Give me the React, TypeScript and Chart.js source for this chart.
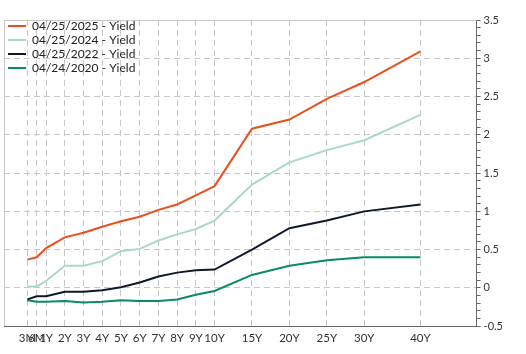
import React, { useEffect, useRef } from "react";
import { Chart, registerables } from "chart.js";

Chart.register(...registerables);

// Maturities shown on the x axis, and their slot on the (non-uniform) maturity axis
const maturityLabels = ["3M", "6M", "1Y", "2Y", "3Y", "4Y", "5Y", "6Y", "7Y", "8Y", "9Y", "10Y", "15Y", "20Y", "25Y", "30Y", "40Y"];
const maturitySlots = [0, 1, 2, 4, 6, 8, 10, 12, 14, 16, 18, 20, 24, 28, 32, 36, 42];

const seriesNames = ["04/25/2025 - Yield", "04/25/2024 - Yield", "04/25/2022 - Yield", "04/24/2020 - Yield"];

const yield2025 = [0.37, 0.40, 0.52, 0.66, 0.72, 0.80, 0.87, 0.93, 1.02, 1.09, 1.21, 1.33, 2.08, 2.20, 2.47, 2.69, 3.09];
const yield2024 = [0.02, 0.02, 0.09, 0.29, 0.29, 0.35, 0.48, 0.51, 0.62, 0.70, 0.77, 0.88, 1.35, 1.64, 1.80, 1.93, 2.26];
const yield2022 = [-0.15, -0.11, -0.11, -0.05, -0.05, -0.03, 0.01, 0.07, 0.15, 0.20, 0.23, 0.24, 0.50, 0.78, 0.88, 1.00, 1.09];
const yield2020 = [-0.16, -0.18, -0.18, -0.17, -0.19, -0.18, -0.16, -0.17, -0.17, -0.15, -0.09, -0.04, 0.17, 0.29, 0.36, 0.40, 0.40];

const seriesColors = ["#E9501F", "#A9D9C5", "#0E1A2B", "#0A8A68"];

const GRID = "#c8c8c8";
const AXIS = "#666666";

const framePlugin = {
  id: "frame",
  afterLayout(chart: any) {
    const lg = chart.legend;
    const ca = chart.chartArea;
    if (lg && ca) {
      const h = lg.height;
      lg.top = ca.top - 2;
      lg.bottom = lg.top + h;
      const w = lg.width;
      lg.left = ca.left + 2;
      lg.right = lg.left + w;
    }
  },
  beforeDatasetsDraw(chart: any) {
    const { ctx, chartArea } = chart;
    ctx.save();
    ctx.strokeStyle = GRID;
    ctx.lineWidth = 1;
    ctx.setLineDash([]);
    ctx.beginPath();
    ctx.moveTo(chartArea.left + 0.5, chartArea.bottom);
    ctx.lineTo(chartArea.left + 0.5, chartArea.top + 0.5);
    ctx.lineTo(chartArea.right, chartArea.top + 0.5);
    ctx.stroke();
    ctx.restore();
  },
};

export default function App() {
  const ref = useRef<HTMLCanvasElement | null>(null);

  useEffect(() => {
    document.body.style.margin = "0";
    if (!ref.current) return;
    const series = [yield2025, yield2024, yield2022, yield2020];
    const chart = new Chart(ref.current, {
      type: "line",
      data: {
        datasets: series.map((vals, i) => ({
          label: seriesNames[i],
          data: maturitySlots.map((x, j) => ({ x, y: vals[j] })),
          borderColor: seriesColors[i],
          backgroundColor: seriesColors[i],
          borderWidth: 2,
          pointRadius: 0,
          tension: 0,
        })),
      },
      options: {
        animation: false,
        responsive: false,
        maintainAspectRatio: false,
        layout: { padding: { left: 4, top: 20, right: 20, bottom: 4 } },
        plugins: {
          tooltip: { enabled: false },
          legend: {
            position: "chartArea" as any,
            align: "start",
            labels: {
              usePointStyle: true,
              pointStyle: "line",
              pointStyleWidth: 18,
              padding: 2,
              color: "#222",
              font: { family: "Lato", size: 12 },
            },
          },
        },
        scales: {
          x: {
            type: "linear",
            min: -2.5,
            max: 48,
            afterBuildTicks: (scale: any) => {
              scale.ticks = maturitySlots.map((v) => ({ value: v }));
            },
            ticks: {
              autoSkip: false,
              maxRotation: 0,
              minRotation: 0,
              padding: 5,
              color: "#333",
              font: { family: "Lato", size: 11.5 },
              callback: (value: any) => {
                const idx = maturitySlots.indexOf(Number(value));
                return idx >= 0 ? maturityLabels[idx] : "";
              },
            },
            grid: { color: GRID, drawTicks: false, lineWidth: 1 },
            border: { color: AXIS, width: 1, dash: [6, 4] },
          },
          y: {
            type: "linear",
            position: "right",
            min: -0.5,
            max: 3.5,
            ticks: {
              stepSize: 0.1,
              autoSkip: false,
              padding: 3,
              color: "#333",
              font: { family: "Lato", size: 11 },
              callback: (value: any) => {
                const v = Number(value);
                if (Math.abs(v * 2 - Math.round(v * 2)) < 1e-6) {
                  return String(Number(v.toFixed(1)));
                }
                return "";
              },
            },
            grid: {
              color: (ctx: any) => {
                const v = ctx.tick ? ctx.tick.value : 0;
                return Math.abs(v * 2 - Math.round(v * 2)) < 1e-6 ? GRID : "rgba(0,0,0,0)";
              },
              tickColor: AXIS,
              tickLength: 4,
              lineWidth: 1,
            },
            border: { color: AXIS, width: 1, dash: [6, 4] },
          },
        },
      },
      plugins: [framePlugin],
    });
    return () => chart.destroy();
  }, []);

  return (
    <div style={{ width: 526, height: 354 }}>
      <canvas ref={ref} width={526} height={354} style={{ display: "block" }} />
    </div>
  );
}
